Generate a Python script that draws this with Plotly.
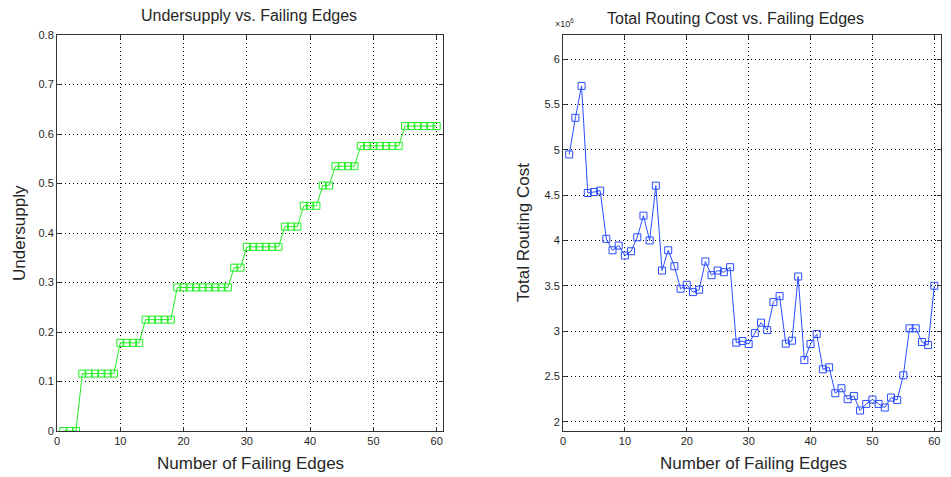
import plotly.graph_objects as go

failing_edges = list(range(1, 61))

undersupply = (
    [0.0] * 3
    + [0.116] * 6
    + [0.178] * 4
    + [0.225] * 5
    + [0.290] * 9
    + [0.330] * 2
    + [0.372] * 6
    + [0.413] * 3
    + [0.455] * 3
    + [0.496] * 2
    + [0.535] * 4
    + [0.576] * 7
    + [0.616] * 6
)

routing_cost = [
    4.95, 5.354, 5.706, 4.524, 4.535, 4.55, 4.018, 3.892, 3.944, 3.834,
    3.881, 4.035, 4.274, 4.0, 4.605, 3.668, 3.892, 3.716, 3.467, 3.511,
    3.43, 3.456, 3.768, 3.617, 3.668, 3.65, 3.705, 2.872, 2.89, 2.857,
    2.978, 3.093, 3.011, 3.32, 3.386, 2.861, 2.894, 3.602, 2.68, 2.857,
    2.967, 2.578, 2.6, 2.314, 2.369, 2.248, 2.284, 2.123, 2.196, 2.244,
    2.196, 2.156, 2.266, 2.24, 2.512, 3.03, 3.03, 2.88, 2.846, 3.5,
]
routing_cost = [v * 1e6 for v in routing_cost]

x_ticks = [0, 10, 20, 30, 40, 50, 60]
left_y_ticks = [0, 0.1, 0.2, 0.3, 0.4, 0.5, 0.6, 0.7, 0.8]
right_y_ticks = [2, 2.5, 3, 3.5, 4, 4.5, 5, 5.5, 6]

FONT = "Liberation Sans, Arial, Helvetica, sans-serif"
TXT = "#262626"
W, H = 951, 477
OFF = 8  # page body margin: figure origin sits at (8, 8) in the window

fig = go.Figure()
fig.add_trace(go.Scatter(
    x=failing_edges, y=undersupply, mode="lines+markers",
    line=dict(color="#22ee22", width=1),
    marker=dict(symbol="square-open", size=7, color="#22ee22", line=dict(width=1)),
    xaxis="x", yaxis="y", showlegend=False,
))
fig.add_trace(go.Scatter(
    x=failing_edges, y=[v / 1e6 for v in routing_cost], mode="lines+markers",
    line=dict(color="#2a4dff", width=1),
    marker=dict(symbol="square-open", size=7, color="#2a4dff", line=dict(width=1)),
    xaxis="x2", yaxis="y2", showlegend=False,
))

def px(x):
    return (x - OFF) / W

def py(y):
    return 1 - (y - OFF) / H

def ax(domain, rng, tickvals, anchor):
    return dict(
        domain=domain, range=rng, tickvals=tickvals,
        ticktext=[("%g" % t) for t in tickvals],
        ticks="inside", ticklen=4, tickcolor="#333333",
        showline=True, linecolor="#333333", linewidth=1, mirror="ticks",
        showgrid=True, gridcolor="#000000", gridwidth=1, griddash="1px,3px",
        zeroline=False, anchor=anchor, automargin=False,
        tickfont=dict(family=FONT, size=11, color=TXT),
    )

yd = [py(431), py(35)]
fig.update_layout(
    width=W, height=H,
    margin=dict(l=0, r=0, t=0, b=0, autoexpand=False),
    paper_bgcolor="white", plot_bgcolor="white",
    font=dict(family=FONT, color=TXT),
    xaxis=ax([px(57), px(443)], [0, 61], x_ticks, "y"),
    yaxis=ax(yd, [0, 0.8], left_y_ticks, "x"),
    xaxis2=ax([px(563), px(940.5)], [0, 61], x_ticks, "y2"),
    yaxis2=ax(yd, [1.897, 6.268], right_y_ticks, "x2"),
)

def ann(text, x, y, size, angle=0):
    fig.add_annotation(
        text=text, x=px(x), y=py(y), xref="paper", yref="paper",
        xanchor="center", yanchor="middle",
        showarrow=False, textangle=angle,
        font=dict(family=FONT, size=size, color=TXT),
    )

ann("Undersupply vs. Failing Edges", 249, 16, 16)
ann("Total Routing Cost vs. Failing Edges", 735, 18, 16)
ann("Number of Failing Edges", 250, 463, 17)
ann("Number of Failing Edges", 753, 463, 17)
ann("Undersupply", 19, 233, 17, angle=-90)
ann("Total Routing Cost", 523, 233, 17, angle=-90)
ann("×10<sup>6</sup>", 564, 23, 9)

fig.write_html("out.html", config={"displayModeBar": False})
